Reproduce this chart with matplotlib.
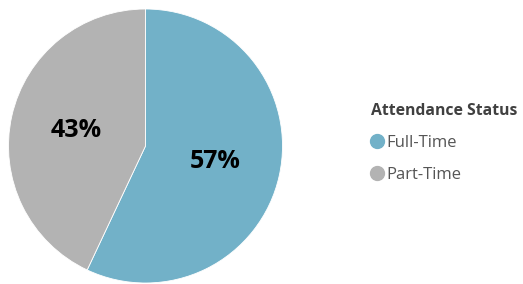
import matplotlib.pyplot as plt
from matplotlib.lines import Line2D

# data
categories = ["Full-Time", "Part-Time"]
shares = [57, 43]
colors = ["#72B1C8", "#B3B3B3"]

plt.rcParams['font.family'] = ['Open Sans', 'DejaVu Sans']

fig = plt.figure(figsize=(5.23, 2.84), dpi=100)
ax = fig.add_axes([8 / 523, 1 / 284, 275 / 523, 274 / 284])

wedges, texts, autotexts = ax.pie(
    shares, colors=colors, startangle=90, counterclock=False,
    autopct="%d%%", pctdistance=0.52,
    wedgeprops=dict(edgecolor="white", linewidth=0.6),
    textprops=dict(fontsize=18, fontweight="bold", color="black"))
ax.set_xlim(-1, 1)
ax.set_ylim(-1, 1)
ax.set_aspect("equal")

# legend
handles = [Line2D([], [], marker="o", linestyle="", markersize=10,
                  markerfacecolor=c, markeredgecolor=c) for c in colors]
leg = fig.legend(handles, categories, title="Attendance Status",
                 loc="upper left", bbox_to_anchor=(356 / 523, 1 - 88 / 284),
                 frameon=False, fontsize=12, title_fontsize=11.3,
                 handlelength=0.7, handletextpad=0.25, labelspacing=0.95,
                 alignment="left", labelcolor="#555555")
leg.get_title().set_fontweight("bold")
leg.get_title().set_color("#404040")

plt.savefig("out.png", dpi=100)
